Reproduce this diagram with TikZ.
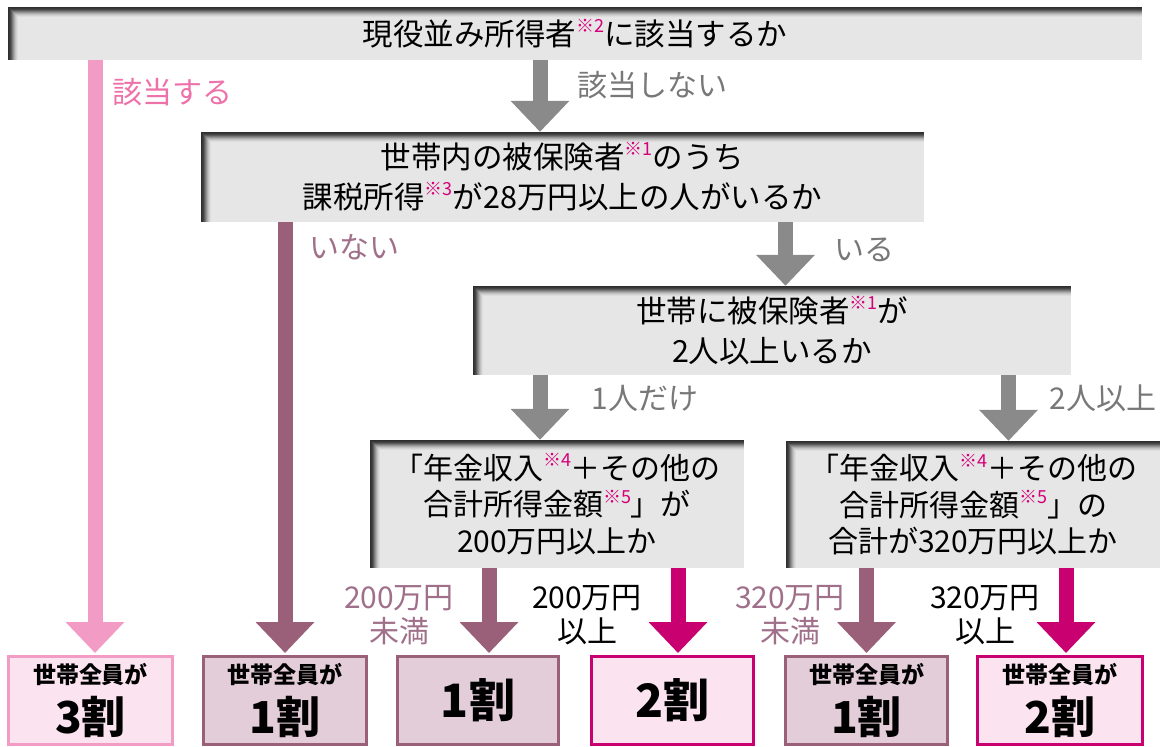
\documentclass[tikz,border=0pt]{standalone}
\usepackage{fontspec}
\newfontfamily\jp{Noto Sans CJK JP}
\usetikzlibrary{arrows.meta}
\definecolor{gboxc}{HTML}{E6E6E6}
\definecolor{garrow}{HTML}{8A8A8A}
\definecolor{glabel}{HTML}{787878}
\definecolor{pinkA}{HTML}{F29CC5}
\definecolor{pinkT}{HTML}{EE72AA}
\definecolor{pinkF}{HTML}{FBE4EF}
\definecolor{mauve}{HTML}{9A6079}
\definecolor{mauveT}{HTML}{A0708A}
\definecolor{mauveF}{HTML}{E3CDD8}
\definecolor{mag}{HTML}{C9006F}
\definecolor{supc}{HTML}{D6007A}
\newcommand\kome[1]{\raisebox{0.42em}{\fontsize{18}{18}\selectfont\textcolor{supc}{※#1}}}
\tikzset{
  graybox/.style={fill=gboxc, inner sep=0pt, align=center, text=black,
    font=\jp\fontsize{30.5}{40}\selectfont,
    path picture={
      \foreach \a/\b/\c in {0/1/80,1/2/76,2/3/70,3/4/60,4/5/48,5/6/36,6/7/25,7/8/16,8/9/9,9/10/4} {
        \fill[black!\c!gboxc] ([xshift=\a pt]path picture bounding box.north west)
          rectangle ([xshift=\b pt]path picture bounding box.south west);
      }
      \foreach \a/\b/\c in {0/1/80,1/2/76,2/3/70,3/4/60,4/5/48,5/6/36,6/7/25,7/8/16,8/9/9,9/10/4} {
        \fill[black!\c!gboxc] ([yshift=-\a pt, xshift=\a pt]path picture bounding box.north west)
          rectangle ([yshift=-\b pt]path picture bounding box.north east);
      }
    }},
  resbox/.style={line width=3pt, inner sep=0pt, align=center, text=black,
    font=\jp\bfseries\fontsize{23}{50}\selectfont},
  pinkbox/.style={resbox, draw=pinkA, fill=pinkF},
  mauvebox/.style={resbox, draw=mauve, fill=mauveF},
  magbox/.style={resbox, draw=mag, fill=pinkF},
  bigarr/.style={line width=15pt, -{Triangle[length=31pt,width=57pt]}},
  garr/.style={bigarr, draw=garrow},
  parr/.style={bigarr, draw=pinkA},
  marr/.style={bigarr, draw=mauve},
  rarr/.style={bigarr, draw=mag},
  lbl/.style={inner sep=0pt, align=center, font=\jp\fontsize{30}{34}\selectfont},
}
\begin{document}
\begin{tikzpicture}[x=1pt, y=-1pt]
\useasboundingbox (0,0) rectangle (1163,747);
% decision boxes
\node[graybox, minimum width=1134pt, minimum height=53pt] (A) at (575,33.5)
  {現役並み所得者\kome{2}に該当するか};
\node[graybox, minimum width=723pt, minimum height=90pt] (B) at (562.5,177)
  {世帯内の被保険者\kome{1}のうち\\課税所得\kome{3}が28万円以上の人がいるか};
\node[graybox, minimum width=598pt, minimum height=89pt] (C) at (772,330.5)
  {世帯に被保険者\kome{1}が\\2人以上いるか};
\node[graybox, minimum width=374pt, minimum height=128pt, font=\jp\fontsize{30}{36.5}\selectfont] (D) at (557,504)
  {「年金収入\kome{4}＋その他の\\合計所得金額\kome{5}」が\\200万円以上か};
\node[graybox, minimum width=374pt, minimum height=127pt, font=\jp\fontsize{30}{36.5}\selectfont] (E) at (973,504.5)
  {「年金収入\kome{4}＋その他の\\合計所得金額\kome{5}」の\\合計が320万円以上か};
% result boxes
\node[pinkbox, minimum width=164pt, minimum height=88pt] (R1) at (90.5,700.5)
  {世帯全員が\\{\fontsize{44}{50}\selectfont 3割}};
\node[mauvebox, minimum width=163pt, minimum height=88pt] (R2) at (285,700.5)
  {世帯全員が\\{\fontsize{44}{50}\selectfont 1割}};
\node[mauvebox, minimum width=161pt, minimum height=88pt, font=\jp\bfseries\fontsize{46}{50}\selectfont] (R3) at (478,700.5)
  {1割};
\node[magbox, minimum width=162pt, minimum height=88pt, font=\jp\bfseries\fontsize{46}{50}\selectfont] (R4) at (672.5,700.5)
  {2割};
\node[mauvebox, minimum width=162pt, minimum height=88pt] (R5) at (866.5,700.5)
  {世帯全員が\\{\fontsize{44}{50}\selectfont 1割}};
\node[magbox, minimum width=165pt, minimum height=88pt] (R6) at (1060,700.5)
  {世帯全員が\\{\fontsize{44}{50}\selectfont 2割}};
% arrow x positions
\coordinate (x1) at (95,0);
\coordinate (x2) at (540,0);
\coordinate (x3) at (285,0);
\coordinate (x4) at (785.5,0);
\coordinate (x5) at (540,0);
\coordinate (x6) at (1008.5,0);
\coordinate (x7) at (489,0);
\coordinate (x8) at (678,0);
\coordinate (x9) at (866.5,0);
\coordinate (x10) at (1066,0);
% connectors
\draw[parr] (A.south -| x1) -- ([yshift=2pt]R1.north -| x1);
\draw[garr] (A.south -| x2) -- (B.north -| x2);
\draw[marr] (B.south -| x3) -- ([yshift=2pt]R2.north -| x3);
\draw[garr] (B.south -| x4) -- (C.north -| x4);
\draw[garr] (C.south -| x5) -- (D.north -| x5);
\draw[garr] (C.south -| x6) -- (E.north -| x6);
\draw[marr] (D.south -| x7) -- ([yshift=2pt]R3.north -| x7);
\draw[rarr] (D.south -| x8) -- ([yshift=2pt]R4.north -| x8);
\draw[marr] (E.south -| x9) -- ([yshift=2pt]R5.north -| x9);
\draw[rarr] (E.south -| x10) -- ([yshift=2pt]R6.north -| x10);
% labels
\node[lbl, text=pinkT] (l1) at (172,92) {該当する};
\node[lbl, text=glabel] (l2) at (652,85) {該当しない};
\node[lbl, text=mauveT] (l3) at (354,247) {いない};
\node[lbl, text=glabel] (l4) at (864,250) {いる};
\node[lbl, text=glabel] (l5) at (645,398) {1人だけ};
\node[lbl, text=glabel] (l6) at (1103,398) {2人以上};
\node[lbl, text=mauveT] (l7) at (399,615) {200万円\\未満};
\node[lbl, text=black] (l8) at (587,615) {200万円\\以上};
\node[lbl, text=mauveT] (l9) at (790,615) {320万円\\未満};
\node[lbl, text=black] (l10) at (985,615) {320万円\\以上};
\end{tikzpicture}
\end{document}
